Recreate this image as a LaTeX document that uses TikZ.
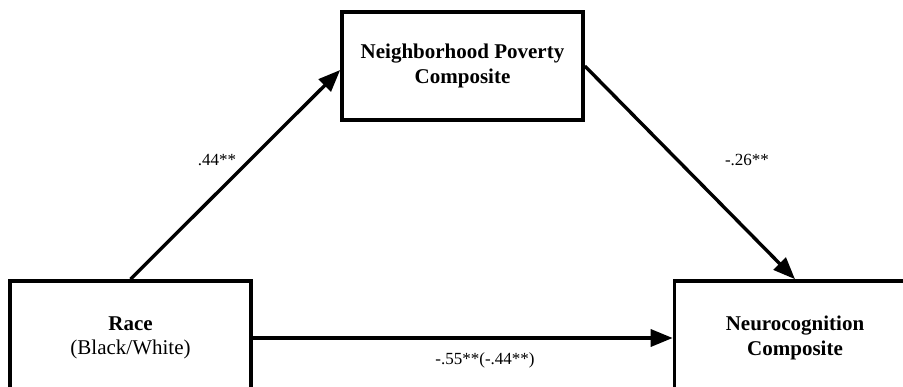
\documentclass[tikz,border=0pt]{standalone}
\usepackage{fontspec}
\setmainfont{Liberation Serif}
\usetikzlibrary{arrows.meta,calc}
\begin{document}
\begin{tikzpicture}[x=1pt,y=-1pt,
  box/.style={draw=black, line width=3.6pt, fill=white, minimum width=241pt, align=center,
    font=\fontsize{21}{24.5}\selectfont, inner sep=0pt},
  conn/.style={line width=3.4pt, -{Triangle[length=22pt,width=17pt]}},
  coef/.style={font=\fontsize{17}{20}\selectfont, inner sep=0pt}]
\useasboundingbox[fill=white] (0,0) rectangle (903,387);
\clip (0,0) rectangle (903,387);
\node[box, minimum height=108pt] (pov) at (462.5,66) {\textbf{Neighborhood Poverty}\\\textbf{Composite}};
\node[box, minimum height=114pt] (race) at (130.5,338) {\textbf{Race}\\(Black/White)};
\node[box, minimum height=114pt] (neuro) at (795,338) {\textbf{Neurocognition}\\\textbf{Composite}};
\draw[conn] (race.north) -- ($(pov.west)+(0,4)$);
\draw[conn] (pov.east) -- (neuro.north);
\draw[conn] (race.east) -- (neuro.west);
\node[coef] (a) at (217,160) {.44**};
\node[coef] (b) at (747,160) {-.26**};
\node[coef] (c) at (485,360) {-.55**(-.44**)};
\end{tikzpicture}
\end{document}
